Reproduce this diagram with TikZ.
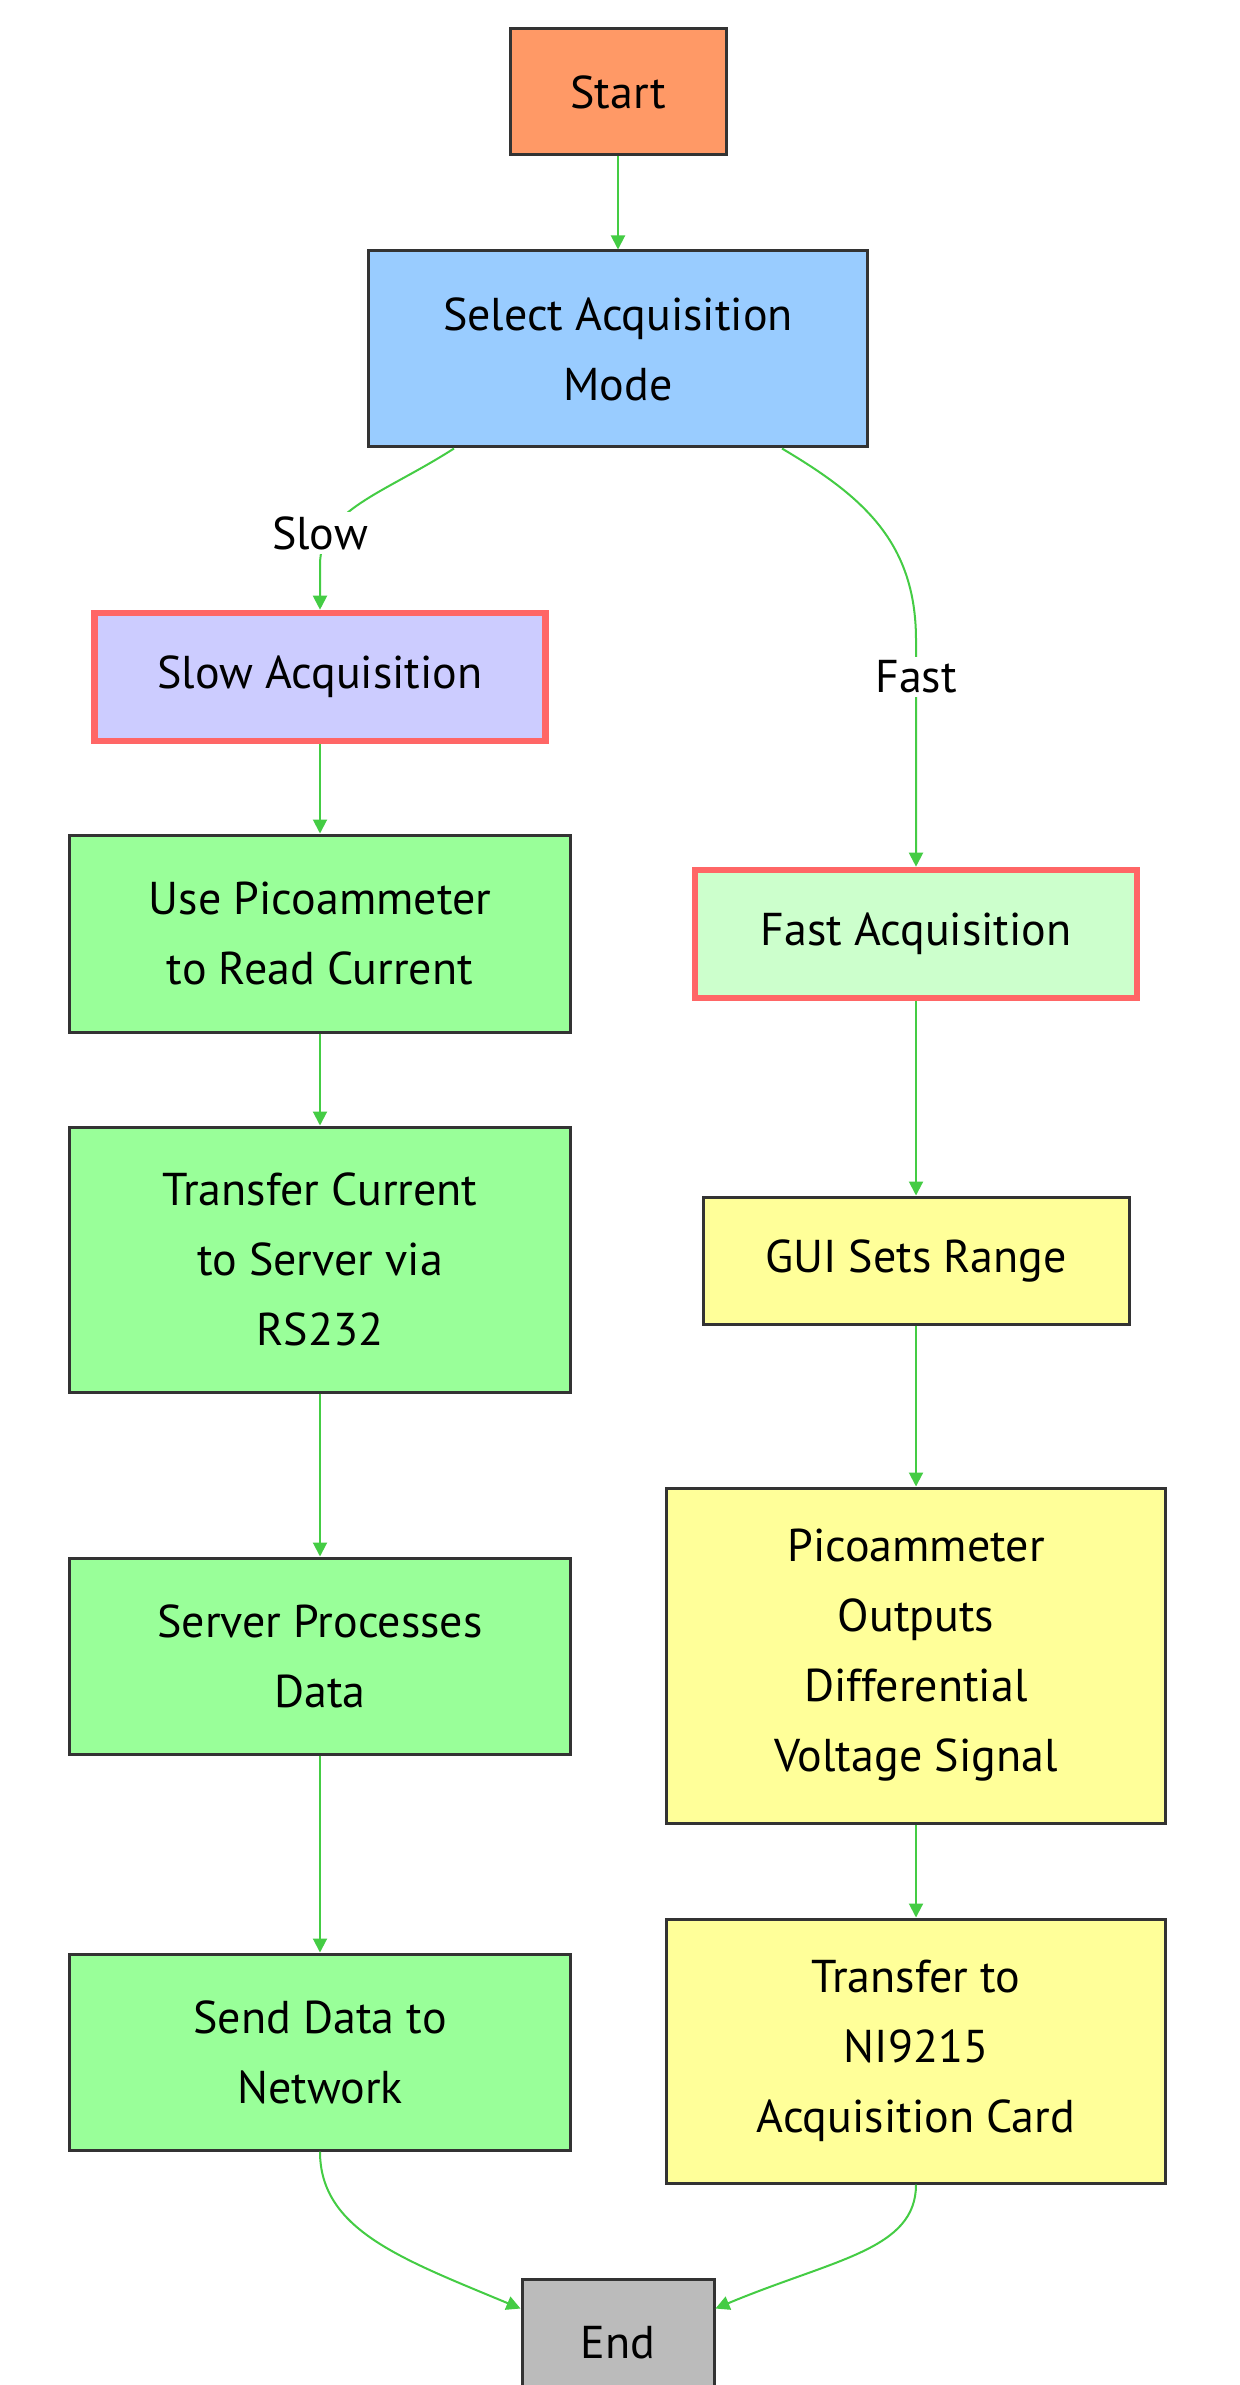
\documentclass[tikz,border=0pt]{standalone}
\usepackage{fontspec}
\setmainfont{PT Sans}
\usetikzlibrary{arrows.meta}
\definecolor{edgec}{HTML}{44CC44}
\definecolor{boxline}{HTML}{333333}
\definecolor{hotred}{HTML}{FF6666}
\definecolor{cstart}{HTML}{FF9966}
\definecolor{csel}{HTML}{99CCFF}
\definecolor{cslow}{HTML}{CCCCFF}
\definecolor{cgreen}{HTML}{99FF99}
\definecolor{cfast}{HTML}{CCFFCC}
\definecolor{cyel}{HTML}{FFFF99}
\definecolor{cend}{HTML}{BBBBBB}
\begin{document}
\begin{tikzpicture}[x=0.5pt,y=-0.5pt,
  box/.style={draw=boxline, line width=1.5pt, align=center, inner sep=0pt,
    font=\fontsize{23}{35}\selectfont},
  hot/.style={draw=hotred, line width=3.3pt},
  edge/.style={draw=edgec, line width=1pt, -{Triangle[length=7pt,width=7pt]}},
  elabel/.style={fill=white, inner sep=2pt, font=\fontsize{23}{35}\selectfont}]
\useasboundingbox (0,0) rectangle (1240,2385);
\clip (0,0) rectangle (1240,2385);
\fill[white] (0,0) rectangle (1240,2385);

\node[box, fill=cstart, minimum width=108pt, minimum height=63pt] (start) at (618,92) {Start};
\node[box, fill=csel, minimum width=249.5pt, minimum height=98pt] (sel) at (618,349) {Select Acquisition\\Mode};
\node[box, hot, fill=cslow, minimum width=225.5pt, minimum height=64pt] (slowacq) at (320,677) {Slow Acquisition};
\node[box, fill=cgreen, minimum width=250.5pt, minimum height=98.5pt] (pico) at (320,933.5) {Use Picoammeter\\to Read Current};
\node[box, fill=cgreen, minimum width=250.5pt, minimum height=132.5pt] (tcur) at (320,1259.5) {Transfer Current\\to Server via\\RS232};
\node[box, fill=cgreen, minimum width=250.5pt, minimum height=98pt] (server) at (320,1656) {Server Processes\\Data};
\node[box, fill=cgreen, minimum width=250.5pt, minimum height=98pt] (send) at (320,2052) {Send Data to\\Network};
\node[box, hot, fill=cfast, minimum width=221pt, minimum height=64pt] (fastacq) at (916,934) {Fast Acquisition};
\node[box, fill=cyel, minimum width=213pt, minimum height=63.5pt] (gui) at (916,1260.5) {GUI Sets Range};
\node[box, fill=cyel, minimum width=249.5pt, minimum height=167.5pt] (pout) at (916,1655.5) {Picoammeter\\Outputs\\Differential\\Voltage Signal};
\node[box, fill=cyel, minimum width=249.5pt, minimum height=132pt] (tni) at (916,2051) {Transfer to\\NI9215\\Acquisition Card};
\node[box, fill=cend, minimum width=96pt, minimum height=64pt] (end) at (618,2343) {End};

\draw[edge] (start) -- (sel);
\draw[edge] ([xshift=-82pt]sel.south) .. controls (383,494) and (320,510) .. (320,565) -- (slowacq.north);
\node[elabel] (lslow) at (320,533) {Slow};
\draw[edge] ([xshift=82pt]sel.south) .. controls (860,495) and (916,540) .. (916,640) -- (fastacq.north);
\node[elabel] (lfast) at (916,677) {Fast};

\draw[edge] (slowacq) -- (pico);
\draw[edge] (pico) -- (tcur);
\draw[edge] (tcur) -- (server);
\draw[edge] (server) -- (send);
\draw[edge] (fastacq) -- (gui);
\draw[edge] (gui) -- (pout);
\draw[edge] (pout) -- (tni);

\draw[edge] (send.south) .. controls (320,2230) and (402,2259) .. ([yshift=-15.5pt]end.north west);
\draw[edge] (tni.south) .. controls (916,2250) and (834,2259) .. ([yshift=-15.5pt]end.north east);
\end{tikzpicture}
\end{document}
